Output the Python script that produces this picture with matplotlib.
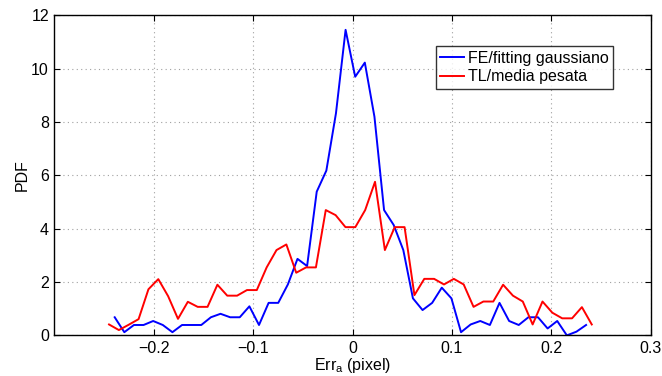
import numpy as np
import matplotlib.pyplot as plt

plt.rcParams["font.family"] = ["Liberation Sans", "DejaVu Sans"]

# bin centres (50 bins each) and pdf values
x_fe = np.linspace(-0.2394, 0.2350, 50)
pdf_fe = [0.68, 0.12, 0.39, 0.39, 0.54, 0.39, 0.12, 0.39, 0.39, 0.39,
          0.68, 0.81, 0.68, 0.68, 1.09, 0.39, 1.22, 1.22, 1.91, 2.87,
          2.60, 5.39, 6.18, 8.33, 11.46, 9.70, 10.23, 8.20, 4.70, 4.14,
          3.20, 1.39, 0.95, 1.22, 1.79, 1.39, 0.12, 0.41, 0.54, 0.39,
          1.22, 0.54, 0.39, 0.68, 0.68, 0.26, 0.54, 0.00, 0.14, 0.39]

x_tl = np.linspace(-0.2451, 0.2407, 50)
pdf_tl = [0.41, 0.20, 0.40, 0.61, 1.73, 2.11, 1.47, 0.62, 1.26, 1.07,
          1.07, 1.90, 1.49, 1.49, 1.70, 1.70, 2.55, 3.20, 3.41, 2.35,
          2.55, 2.55, 4.70, 4.51, 4.06, 4.06, 4.70, 5.76, 3.20, 4.06,
          4.06, 1.51, 2.12, 2.12, 1.91, 2.12, 1.91, 1.07, 1.27, 1.27,
          1.90, 1.49, 1.27, 0.41, 1.27, 0.85, 0.64, 0.64, 1.06, 0.41]

labels = ["FE/fitting gaussiano", "TL/media pesata"]
xticks = [-0.2, -0.1, 0, 0.1, 0.2, 0.3]
xticklabels = ["\u22120.2", "\u22120.1", "0", "0.1", "0.2", "0.3"]
yticks = [0, 2, 4, 6, 8, 10, 12]

fs = 11.5

fig = plt.figure(figsize=(6.62, 3.76), dpi=100)
ax = fig.add_axes([0.0823, 0.108, 0.9006, 0.851])

ax.plot(x_fe, pdf_fe, color="#0000ff", lw=1.4, label=labels[0])
ax.plot(x_tl, pdf_tl, color="#ff0000", lw=1.4, label=labels[1])

ax.set_xlim(-0.3, 0.3)
ax.set_ylim(0, 12)
ax.set_xticks(xticks)
ax.set_xticklabels(xticklabels)
ax.set_yticks(yticks)
ax.tick_params(direction="in", top=True, right=True, length=4, width=0.8,
               labelsize=fs, pad=4)
ax.grid(True, linestyle=(0, (1, 3)), color="#a0a0a0", lw=0.8)
for s in ax.spines.values():
    s.set_linewidth(1.0)

ax.set_xlabel("Err$_{\\mathregular{a}}$ (pixel)", fontsize=fs, labelpad=0)
ax.set_ylabel("PDF", fontsize=fs, labelpad=1)

leg = ax.legend(loc="upper right", bbox_to_anchor=(0.937, 0.904),
                borderaxespad=0, fancybox=False, fontsize=fs,
                handlelength=1.5, handletextpad=0.2, borderpad=0.3,
                labelspacing=0.2)
leg.get_frame().set_edgecolor("black")
leg.get_frame().set_linewidth(1.0)

fig.savefig("out.png", dpi=100)
